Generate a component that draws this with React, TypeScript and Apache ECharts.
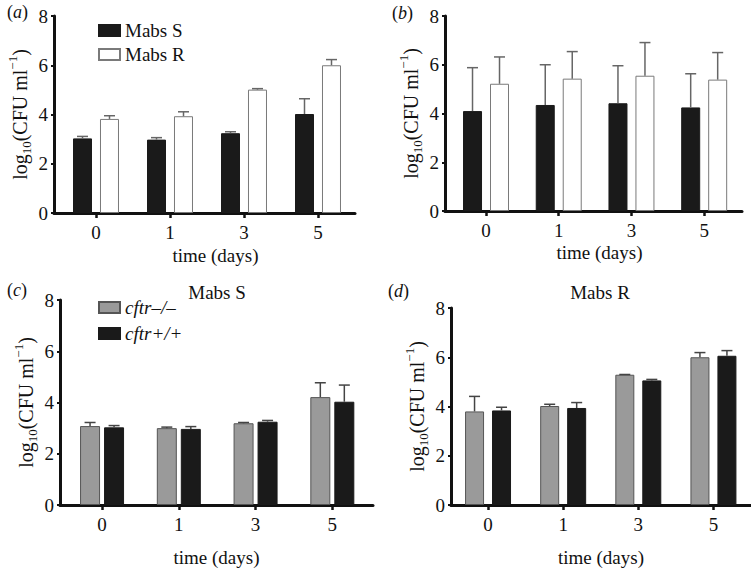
import React, { useEffect, useRef } from 'react';
import * as echarts from 'echarts';

// ---- data ----
const days = ['0', '1', '3', '5'];

// panel (a): Mabs S vs Mabs R
const aMabsS = [3.03, 2.98, 3.24, 4.02];
const aMabsSErr = [0.08, 0.08, 0.06, 0.62];
const aMabsR = [3.82, 3.93, 5.01, 6.0];
const aMabsRErr = [0.13, 0.18, 0.04, 0.23];

// panel (b): Mabs S vs Mabs R
const bMabsS = [4.1, 4.35, 4.42, 4.25];
const bMabsSErr = [1.78, 1.65, 1.54, 1.38];
const bMabsR = [5.22, 5.43, 5.55, 5.39];
const bMabsRErr = [1.1, 1.11, 1.36, 1.11];

// panel (c): Mabs S, cftr-/- vs cftr+/+
const cKO = [3.08, 3.0, 3.19, 4.21];
const cKOErr = [0.14, 0.04, 0.03, 0.56];
const cWT = [3.03, 2.97, 3.25, 4.03];
const cWTErr = [0.07, 0.09, 0.05, 0.65];

// panel (d): Mabs R, cftr-/- vs cftr+/+
const dKO = [3.8, 4.02, 5.29, 6.0];
const dKOErr = [0.61, 0.07, 0.01, 0.19];
const dWT = [3.84, 3.94, 5.06, 6.06];
const dWTErr = [0.13, 0.22, 0.04, 0.21];

const yTicks = [0, 2, 4, 6, 8];

const FONT = "'Liberation Serif', 'Times New Roman', serif";
const BLACK = '#1a1a1a';
const GREY = '#9a9a9a';
const FS = 19;

type SeriesDef = {
  name: string;
  values: number[];
  errs: number[];
  fill: string;
  border: string;
};

type PanelDef = {
  grid: { left: number; top: number; width: number; height: number };
  xMin: number;
  xMax: number;
  barWidth: number;
  gapPx: number;
  errColor: string;
  nameGapX: number;
  nameShift: number;
  series: SeriesDef[];
};

const panels: PanelDef[] = [
  {
    grid: { left: 54, top: 16, width: 301, height: 197 },
    xMin: -0.5676, xMax: 3.5, barWidth: 19, gapPx: 8, errColor: '#666',
    nameGapX: 33, nameShift: 22,
    series: [
      { name: 'Mabs S', values: aMabsS, errs: aMabsSErr, fill: BLACK, border: BLACK },
      { name: 'Mabs R', values: aMabsR, errs: aMabsRErr, fill: '#ffffff', border: '#7a7a7a' },
    ],
  },
  {
    grid: { left: 445, top: 16, width: 297, height: 195 },
    xMin: -0.564, xMax: 3.52, barWidth: 19, gapPx: 8, errColor: '#666',
    nameGapX: 32, nameShift: 12,
    series: [
      { name: 'Mabs S', values: bMabsS, errs: bMabsSErr, fill: BLACK, border: BLACK },
      { name: 'Mabs R', values: bMabsR, errs: bMabsRErr, fill: '#ffffff', border: '#7a7a7a' },
    ],
  },
  {
    grid: { left: 60, top: 300, width: 313, height: 205 },
    xMin: -0.548, xMax: 3.53, barWidth: 20, gapPx: 4, errColor: '#444',
    nameGapX: 43, nameShift: 0,
    series: [
      { name: 'cftr–/–', values: cKO, errs: cKOErr, fill: GREY, border: '#555' },
      { name: 'cftr+/+', values: cWT, errs: cWTErr, fill: BLACK, border: BLACK },
    ],
  },
  {
    grid: { left: 451, top: 308, width: 300, height: 197 },
    xMin: -0.493, xMax: 3.5, barWidth: 19, gapPx: 8, errColor: '#444',
    nameGapX: 43, nameShift: 0,
    series: [
      { name: 'cftr–/–', values: dKO, errs: dKOErr, fill: GREY, border: '#555' },
      { name: 'cftr+/+', values: dWT, errs: dWTErr, fill: BLACK, border: BLACK },
    ],
  },
];

function buildOption() {
  const grids: any[] = [];
  const xAxes: any[] = [];
  const yAxes: any[] = [];
  const series: any[] = [];

  panels.forEach((p, i) => {
    grids.push({ ...p.grid, containLabel: false });
    xAxes.push({
      type: 'value',
      gridIndex: i,
      min: p.xMin,
      max: p.xMax,
      splitLine: { show: false },
      axisLine: { show: true, onZero: false, lineStyle: { color: '#111', width: 3 } },
      axisTick: { show: true, customValues: [0, 1, 2, 3], length: 5, lineStyle: { color: '#111', width: 2.5 } },
      axisLabel: {
        customValues: [0, 1, 2, 3],
        formatter: (v: number) => days[Math.round(v)] ?? '',
        fontFamily: FONT, fontSize: FS, color: '#111', margin: 10,
      },
      name: 'time (days)',
      nameLocation: 'middle',
      nameGap: p.nameGapX,
      nameTextStyle: { fontFamily: FONT, fontSize: FS, color: '#111', padding: [0, 0, 0, p.nameShift] },
    });
    yAxes.push({
      type: 'value',
      gridIndex: i,
      min: yTicks[0],
      max: yTicks[yTicks.length - 1],
      interval: 2,
      splitLine: { show: false },
      axisLine: { show: true, onZero: false, lineStyle: { color: '#111', width: 3 } },
      axisTick: { show: true, length: 3, lineStyle: { color: '#111', width: 2 } },
      axisLabel: { fontFamily: FONT, fontSize: FS, color: '#111', margin: 6 },
      name: '{a|log}{b|10}{a|(CFU ml}{c|−1}{a|)}',
      nameLocation: 'middle',
      nameRotate: 90,
      nameGap: 21,
      nameTextStyle: {
        fontFamily: FONT,
        color: '#111',
        rich: {
          a: { fontFamily: FONT, fontSize: 20, color: '#111', lineHeight: 27 },
          b: { fontFamily: FONT, fontSize: 13, color: '#111', lineHeight: 13, verticalAlign: 'bottom' },
          c: { fontFamily: FONT, fontSize: 13, color: '#111', lineHeight: 13, verticalAlign: 'top' },
        },
      },
    });

    const gapPct = Math.round((p.gapPx / p.barWidth) * 100) + '%';
    const half = (p.barWidth + p.gapPx) / 2;
    p.series.forEach((s) => {
      series.push({
        type: 'bar',
        name: s.name,
        xAxisIndex: i,
        yAxisIndex: i,
        barWidth: p.barWidth,
        barGap: gapPct,
        itemStyle: { color: s.fill, borderColor: s.border, borderWidth: 1 },
        data: s.values.map((v, k) => [k, v]),
        z: 2,
      });
    });
    p.series.forEach((s, j) => {
      const offset = j === 0 ? -half : half;
      series.push({
        type: 'custom',
        name: s.name + ' error',
        xAxisIndex: i,
        yAxisIndex: i,
        z: 3,
        encode: { x: 0, y: [1, 2] },
        data: s.values.map((v, k) => [k, v, v + s.errs[k]]),
        renderItem: (params: any, api: any) => {
          const x = api.value(0);
          const m = api.value(1);
          const u = api.value(2);
          const p0 = api.coord([x, m]);
          const p1 = api.coord([x, u]);
          const cx = p0[0] + offset;
          const style = { stroke: p.errColor, lineWidth: 1.5, fill: 'none' };
          return {
            type: 'group',
            children: [
              { type: 'line', shape: { x1: cx, y1: p0[1], x2: cx, y2: p1[1] }, style },
              { type: 'line', shape: { x1: cx - 5.5, y1: p1[1], x2: cx + 5.5, y2: p1[1] }, style },
            ],
          };
        },
      });
    });
  });

  const panelLabel = (letter: string, x: number, y: number) => ({
    type: 'text',
    x,
    y,
    style: {
      text: '{n|(}{i|' + letter + '}{n|)}',
      textVerticalAlign: 'middle',
      rich: {
        n: { fontFamily: FONT, fontSize: 18, fill: '#111' },
        i: { fontFamily: FONT, fontSize: 18, fontStyle: 'italic', fill: '#111' },
      },
    },
  });

  const title = (text: string, x: number, y: number) => ({
    type: 'text',
    x,
    y,
    style: {
      text,
      textAlign: 'center',
      textVerticalAlign: 'middle',
      fontFamily: FONT,
      fontSize: FS,
      fill: '#111',
    },
  });

  return {
    animation: false,
    backgroundColor: '#ffffff',
    grid: grids,
    xAxis: xAxes,
    yAxis: yAxes,
    series,
    legend: [
      {
        data: ['Mabs S', 'Mabs R'],
        orient: 'vertical',
        align: 'left',
        left: 98,
        top: 21,
        padding: 0,
        itemWidth: 21,
        itemHeight: 11,
        itemGap: 5,
        icon: 'rect',
        selectedMode: false,
        textStyle: { fontFamily: FONT, fontSize: FS, color: '#111' },
      },
      {
        data: ['cftr–/–', 'cftr+/+'],
        orient: 'vertical',
        align: 'left',
        left: 98,
        top: 298,
        padding: 0,
        itemWidth: 21,
        itemHeight: 11,
        itemGap: 7,
        icon: 'rect',
        selectedMode: false,
        textStyle: { fontFamily: FONT, fontSize: FS, fontStyle: 'italic', color: '#111' },
      },
    ],
    graphic: [
      panelLabel('a', 7, 12),
      panelLabel('b', 392, 13),
      panelLabel('c', 7, 290),
      panelLabel('d', 388, 291),
      title('Mabs S', 217, 292),
      title('Mabs R', 600, 292),
    ],
  };
}

export default function App() {
  const ref = useRef<HTMLDivElement>(null);
  useEffect(() => {
    if (!ref.current) return;
    const chart = echarts.init(ref.current, undefined, { renderer: 'svg' });
    chart.setOption(buildOption() as any);
    return () => chart.dispose();
  }, []);
  return (
    <div
      ref={ref}
      style={{ position: 'absolute', left: 0, top: 0, width: 751, height: 570, background: '#fff' }}
    />
  );
}
